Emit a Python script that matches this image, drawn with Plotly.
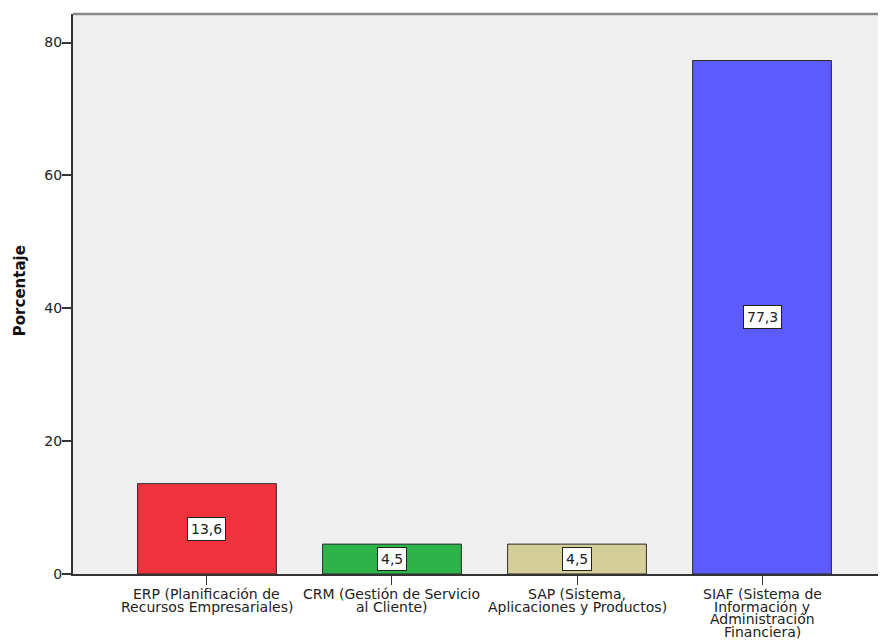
import plotly.graph_objects as go

category_lines = [
    ["ERP (Planificación de", "Recursos Empresariales)"],
    ["CRM (Gestión de Servicio", "al Cliente)"],
    ["SAP (Sistema,", "Aplicaciones y Productos)"],
    ["SIAF (Sistema de", "Información y", "Administración", "Financiera)"],
]
values = [13.6, 4.5, 4.5, 77.3]
labels = ["13,6", "4,5", "4,5", "77,3"]
colors = ["#F0323C", "#2EB34B", "#D4CF98", "#5B5BFF"]
y_ticks = [0, 20, 40, 60, 80]
y_title = "Porcentaje"

FONT = "DejaVu Sans, Verdana, sans-serif"
x_idx = list(range(len(values)))

fig = go.Figure()
fig.add_trace(go.Bar(
    x=x_idx, y=values, width=0.75,
    marker=dict(color=colors, line=dict(color="#2a2a2a", width=1)),
    hoverinfo="skip",
))

# value labels in white boxes at bar middle
for i, (v, t) in enumerate(zip(values, labels)):
    fig.add_annotation(
        x=i, y=v / 2, text=t, showarrow=False,
        font=dict(family=FONT, size=14, color="#222222"),
        bgcolor="white", bordercolor="#222222", borderwidth=1, borderpad=3,
    )

# category labels, one annotation per line for tight line spacing
for i, lines in enumerate(category_lines):
    for k, ln in enumerate(lines):
        fig.add_annotation(
            x=i, xref="x", y=0, yref="paper", text=ln, showarrow=False,
            yanchor="middle", yshift=-(20 + 12.7 * k),
            font=dict(family=FONT, size=14, color="#222222"),
        )

# y axis title
fig.add_annotation(
    x=0, xref="paper", y=0.505, yref="paper", xshift=-53, xanchor="center",
    text="<b>%s</b>" % y_title, textangle=-90, showarrow=False,
    font=dict(family=FONT, size=15, color="#111111"),
)

# page body has an 8px default margin: figure is sized/offset to compensate
fig.update_layout(
    width=878, height=635,
    margin=dict(l=65, r=0, t=6, b=69),
    paper_bgcolor="white", plot_bgcolor="#EFEFEF",
    showlegend=False,
    font=dict(family=FONT, size=14, color="#222222"),
    xaxis=dict(
        tickmode="array", tickvals=x_idx, ticktext=[""] * len(x_idx),
        range=[-0.724, 3.67], showgrid=False, zeroline=False,
        ticks="outside", ticklen=9, tickcolor="#333333", tickwidth=1,
        showline=True, linecolor="#333333", linewidth=1.5,
        automargin=False, fixedrange=True,
    ),
    yaxis=dict(
        tickmode="array", tickvals=y_ticks,
        range=[0, 84.3], showgrid=False, zeroline=False,
        ticks="outside", ticklen=9, tickcolor="#333333", tickwidth=1.5,
        showline=True, linecolor="#333333", linewidth=2,
        automargin=False, fixedrange=True, ticklabelstandoff=-3,
        tickfont=dict(family=FONT, size=14, color="#222222"),
    ),
)

fig.add_shape(type="line", xref="paper", yref="paper", x0=0, x1=1, y0=1, y1=1,
              line=dict(color="#888888", width=2.5))

fig.write_html("out.html")
